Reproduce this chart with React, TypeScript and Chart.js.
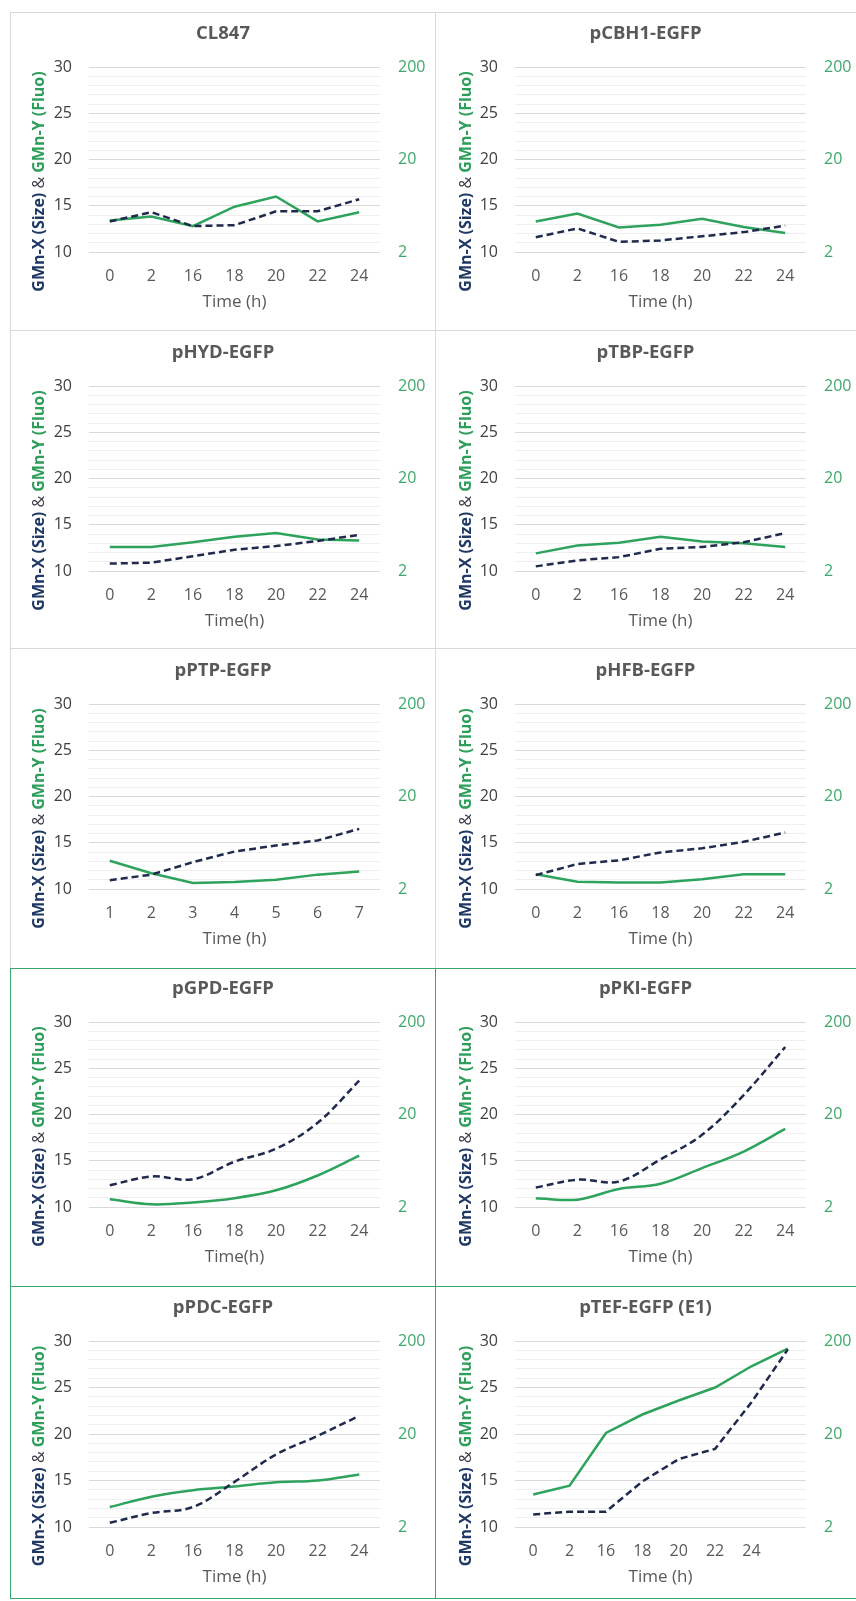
import React, { useEffect, useRef } from 'react';
import { Chart, registerables } from 'chart.js';

Chart.register(...registerables);

// ---------- data ----------
const timeLabels = ['0', '2', '16', '18', '20', '22', '24'];
const ptpTimeLabels = ['1', '2', '3', '4', '5', '6', '7'];
const tefTimeLabels = ['0', '2', '16', '18', '20', '22', '24', ''];
const sizeTickLabels = [10, 15, 20, 25, 30];
const fluoTickLabels = [2, 20, 200];

const cl847Size = [13.3, 14.3, 12.8, 12.9, 14.4, 14.4, 15.7];
const cl847Fluo = [4.38, 4.85, 3.81, 6.18, 7.96, 4.28, 5.38];
const cbh1Size = [11.6, 12.55, 11.1, 11.25, 11.7, 12.15, 12.85];
const cbh1Fluo = [4.28, 5.2, 3.68, 3.94, 4.58, 3.72, 3.21];
const hydSize = [10.8, 10.9, 11.6, 12.3, 12.7, 13.25, 13.9];
const hydFluo = [3.64, 3.64, 4.08, 4.69, 5.14, 4.38, 4.28];
const tbpSize = [10.5, 11.15, 11.5, 12.4, 12.6, 13.1, 14.1];
const tbpFluo = [3.1, 3.77, 4.04, 4.69, 4.18, 3.99, 3.64];
const ptpSize = [10.95, 11.55, 12.9, 14.05, 14.7, 15.25, 16.5];
const ptpFluo = [4.04, 2.96, 2.32, 2.38, 2.52, 2.86, 3.1];
const hfbSize = [11.5, 12.7, 13.1, 13.95, 14.4, 15.1, 16.1];
const hfbFluo = [2.89, 2.4, 2.35, 2.35, 2.55, 2.89, 2.89];
const gpdSize = [12.35, 13.3, 13.0, 14.9, 16.3, 19.1, 23.65];
const gpdFluo = [2.43, 2.14, 2.24, 2.49, 3.03, 4.38, 7.18];
const pkiSize = [12.1, 12.95, 12.75, 15.15, 17.8, 22.1, 27.3];
const pkiFluo = [2.49, 2.4, 3.13, 3.56, 5.26, 7.96, 14.0];
const pdcSize = [10.45, 11.5, 12.15, 14.85, 17.8, 19.8, 21.95];
const pdcFluo = [3.28, 4.23, 4.97, 5.45, 6.04, 6.32, 7.35];
const tefSize = [11.35, 11.65, 11.65, 14.9, 17.3, 18.4, 23.4, 29.1];
const tefFluo = [4.48, 5.57, 20.5, 32.4, 45.8, 63.2, 107, 166];

const panels = [
  { title: 'CL847', xTitle: 'Time (h)', labels: timeLabels, size: cl847Size, fluo: cl847Fluo, smooth: false },
  { title: 'pCBH1-EGFP', xTitle: 'Time (h)', labels: timeLabels, size: cbh1Size, fluo: cbh1Fluo, smooth: false },
  { title: 'pHYD-EGFP', xTitle: 'Time(h)', labels: timeLabels, size: hydSize, fluo: hydFluo, smooth: false },
  { title: 'pTBP-EGFP', xTitle: 'Time (h)', labels: timeLabels, size: tbpSize, fluo: tbpFluo, smooth: false },
  { title: 'pPTP-EGFP', xTitle: 'Time (h)', labels: ptpTimeLabels, size: ptpSize, fluo: ptpFluo, smooth: false },
  { title: 'pHFB-EGFP', xTitle: 'Time (h)', labels: timeLabels, size: hfbSize, fluo: hfbFluo, smooth: false },
  { title: 'pGPD-EGFP', xTitle: 'Time(h)', labels: timeLabels, size: gpdSize, fluo: gpdFluo, smooth: true },
  { title: 'pPKI-EGFP', xTitle: 'Time (h)', labels: timeLabels, size: pkiSize, fluo: pkiFluo, smooth: true },
  { title: 'pPDC-EGFP', xTitle: 'Time (h)', labels: timeLabels, size: pdcSize, fluo: pdcFluo, smooth: true },
  { title: 'pTEF-EGFP (E1)', xTitle: 'Time (h)', labels: tefTimeLabels, size: tefSize, fluo: tefFluo, smooth: false },
];

// ---------- style / layout ----------
const FONT = "'Open Sans', 'Liberation Sans', sans-serif";
const NAVY = '#1f2a4d';
const NAVY_TEXT = '#1f3864';
const GREEN = '#2ea35c';
const GREEN_TEXT = '#2e9e5b';
const GREEN_TICK = '#3fa86c';
const GREY_TEXT = '#595959';
const GREY_BORDER = '#d9d9d9';
const GREEN_BORDER = '#3aa76d';

const COL_X = [10, 435];
const COL_W = [425, 420];
const ROW_Y = [12, 330, 648, 968, 1286];
const ROW_H = [318, 318, 320, 318, 314];
const PLOT_LEFT = [89, 515];
const PLOT_RIGHT = [380, 806];
const PLOT_TOP = [67, 386, 704, 1022, 1341];
const PLOT_BOTTOM = [252, 571, 889, 1207, 1527];
const Y_TITLE_X = [28, 30];
const X_AXIS_H = 63;

const panelTextPlugin = {
  id: 'panelText',
  afterDraw(chart: any, _args: any, opts: any) {
    const { ctx, chartArea, width } = chart;
    ctx.save();
    ctx.font = `bold 18.5px ${FONT}`;
    ctx.fillStyle = GREY_TEXT;
    ctx.textAlign = 'center';
    ctx.textBaseline = 'middle';
    ctx.fillText(opts.title, width / 2, chartArea.top - 33);

    const parts = [
      { t: 'GMn-X (Size) ', c: NAVY_TEXT, f: `bold 16px ${FONT}` },
      { t: '&', c: '#3a3a4a', f: `16px ${FONT}` },
      { t: ' GMn-Y (Fluo)', c: GREEN_TEXT, f: `bold 16px ${FONT}` },
    ];
    let total = 0;
    const widths = parts.map((p) => {
      ctx.font = p.f;
      const w = ctx.measureText(p.t).width;
      total += w;
      return w;
    });
    ctx.translate(opts.yTitleX, (chartArea.top + chartArea.bottom) / 2 + 22);
    ctx.rotate(-Math.PI / 2);
    ctx.textAlign = 'left';
    let x = -total / 2;
    parts.forEach((p, i) => {
      ctx.font = p.f;
      ctx.fillStyle = p.c;
      ctx.fillText(p.t, x, 0);
      x += widths[i];
    });
    ctx.restore();
  },
};

function Panel({ spec, col, row }: { spec: any; col: number; row: number }) {
  const ref = useRef<HTMLCanvasElement>(null);
  const canvasLeft = COL_X[col] + 1;
  const canvasTop = ROW_Y[row] + 1;
  const w = COL_W[col] - 1;
  const h = ROW_H[row] - 1;

  useEffect(() => {
    const chartLeft = PLOT_LEFT[col] - canvasLeft;
    const chartRight = PLOT_RIGHT[col] - canvasLeft;
    const top = PLOT_TOP[row] - canvasTop;
    const bottom = PLOT_BOTTOM[row] - canvasTop;
    const tension = spec.smooth ? 0.35 : 0;
    const chart = new Chart(ref.current as HTMLCanvasElement, {
      type: 'line',
      data: {
        labels: spec.labels,
        datasets: [
          {
            label: 'GMn-X (Size)',
            data: spec.size,
            yAxisID: 'y',
            borderColor: NAVY,
            backgroundColor: NAVY,
            borderWidth: 2.5,
            borderDash: [7, 4],
            pointRadius: 0,
            tension,
            fill: false,
          },
          {
            label: 'GMn-Y (Fluo)',
            data: spec.fluo,
            yAxisID: 'y1',
            borderColor: GREEN,
            backgroundColor: GREEN,
            borderWidth: 2.5,
            pointRadius: 0,
            tension,
            fill: false,
          },
        ],
      },
      options: {
        animation: false,
        responsive: false,
        maintainAspectRatio: false,
        layout: { padding: { left: 0, right: 0, top, bottom: h - bottom - X_AXIS_H } },
        plugins: {
          legend: { display: false },
          tooltip: { enabled: false },
          title: { display: false },
          panelText: { title: spec.title, yTitleX: Y_TITLE_X[col] },
        } as any,
        scales: {
          x: {
            type: 'category',
            offset: true,
            grid: { display: false },
            border: { display: false },
            ticks: {
              color: GREY_TEXT,
              font: { family: FONT, size: 16 },
              padding: 7,
              maxRotation: 0,
              autoSkip: false,
            },
            title: {
              display: true,
              text: spec.xTitle,
              color: GREY_TEXT,
              font: { family: FONT, size: 17 },
              padding: { top: 0, bottom: 3 },
            },
            afterFit: (s: any) => {
              s.height = X_AXIS_H;
            },
          },
          y: {
            position: 'left',
            min: 10,
            max: 30,
            border: { display: false },
            grid: {
              drawTicks: false,
              lineWidth: 1,
              color: (c: any) =>
                c.tick && sizeTickLabels.includes(c.tick.value) ? '#d9d9d9' : '#efefef',
            },
            ticks: {
              stepSize: 1,
              autoSkip: false,
              color: '#404040',
              font: { family: FONT, size: 16 },
              padding: 17,
              callback: (v: any) => (sizeTickLabels.includes(Number(v)) ? String(v) : ''),
            },
            afterFit: (s: any) => {
              s.width = chartLeft;
            },
          },
          y1: {
            type: 'logarithmic',
            position: 'right',
            min: 2,
            max: 200,
            border: { display: false },
            grid: { display: false, drawTicks: false },
            afterBuildTicks: (s: any) => {
              s.ticks = fluoTickLabels.map((v) => ({ value: v }));
            },
            ticks: {
              color: GREEN_TICK,
              font: { family: FONT, size: 16 },
              padding: 18,
              callback: (v: any) => String(v),
            },
            afterFit: (s: any) => {
              s.width = w - chartRight;
            },
          },
        },
      } as any,
      plugins: [panelTextPlugin],
    });
    return () => chart.destroy();
  }, []);

  return (
    <canvas
      ref={ref}
      width={w}
      height={h}
      style={{ position: 'absolute', left: canvasLeft, top: canvasTop, width: w, height: h }}
    />
  );
}

const borderLines = [
  { x: 10, y: 12, w: 846, h: 1, c: GREY_BORDER },
  { x: 10, y: 330, w: 846, h: 1, c: GREY_BORDER },
  { x: 10, y: 648, w: 846, h: 1, c: GREY_BORDER },
  { x: 10, y: 12, w: 1, h: 956, c: GREY_BORDER },
  { x: 435, y: 12, w: 1, h: 956, c: GREY_BORDER },
  { x: 10, y: 968, w: 846, h: 1, c: GREEN_BORDER },
  { x: 10, y: 1286, w: 846, h: 1, c: GREEN_BORDER },
  { x: 10, y: 1598, w: 846, h: 1, c: GREEN_BORDER },
  { x: 10, y: 968, w: 1, h: 631, c: GREEN_BORDER },
  { x: 435, y: 968, w: 1, h: 631, c: GREEN_BORDER },
];

export default function App() {
  return (
    <div
      style={{
        position: 'absolute',
        left: 0,
        top: 0,
        width: 856,
        height: 1601,
        background: '#ffffff',
        overflow: 'hidden',
      }}
    >
      {borderLines.map((l, i) => (
        <div
          key={i}
          style={{ position: 'absolute', left: l.x, top: l.y, width: l.w, height: l.h, background: l.c }}
        />
      ))}
      {panels.map((p, i) => (
        <Panel key={i} spec={p} col={i % 2} row={Math.floor(i / 2)} />
      ))}
    </div>
  );
}
